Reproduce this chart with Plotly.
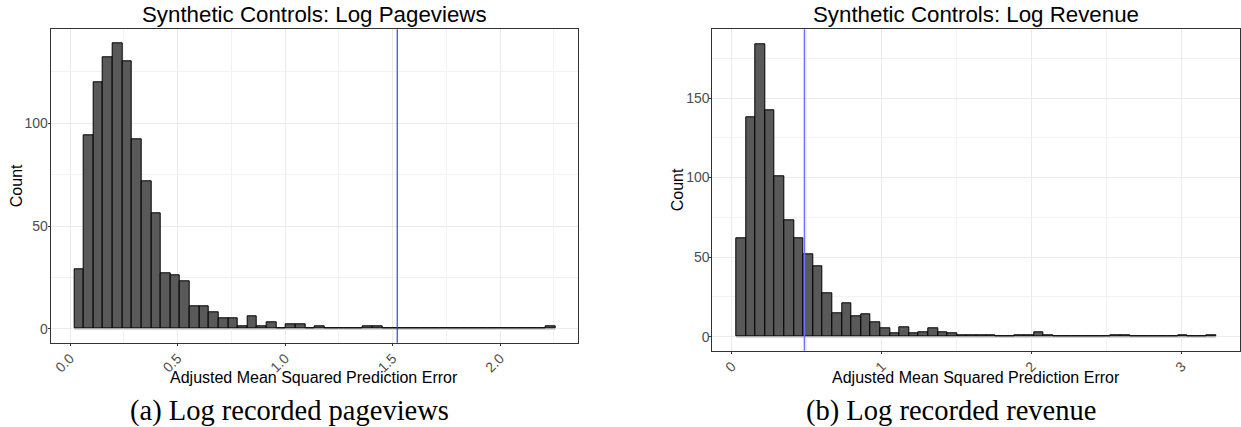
import numpy as np
import plotly.graph_objects as go

W, H = 1241, 427

# ---------------- data ----------------
pv_bin_start = 0.0195
pv_bin_width = 0.04478
pv_counts = [29, 94, 120, 132, 139, 130, 92, 72, 56, 27,
             26, 23, 11, 11, 8, 5, 5, 1, 6, 1,
             3, 0, 2, 2, 0, 1, 0, 0, 0, 0,
             1, 1, 0, 0, 0, 0, 0, 0, 0, 0,
             0, 0, 0, 0, 0, 0, 0, 0, 0, 1]
pv_threshold = 1.522

rev_bin_start = 0.031
rev_bin_width = 0.0640
rev_counts = [62, 138, 184, 142, 101, 73, 62, 52, 44, 27,
              15, 21, 13, 14, 9, 5, 2, 6, 2, 3,
              5, 3, 2, 1, 1, 1, 1, 0, 0, 1,
              1, 3, 1, 0, 0, 0, 0, 0, 0, 1,
              1, 0, 0, 0, 0, 0, 1, 0, 0, 1]
rev_threshold = 0.485

titles = ["Synthetic Controls: Log Pageviews", "Synthetic Controls: Log Revenue"]
captions = ["(a) Log recorded pageviews", "(b) Log recorded revenue"]
x_title = "Adjusted Mean Squared Prediction Error"
y_title = "Count"

# ---------------- helpers ----------------
def px_x(p):
    return p / W

def px_y(p):
    return 1 - p / H

SANS = "Liberation Sans, Arial, Helvetica, sans-serif"
SERIF = "Liberation Serif, Times New Roman, serif"
GRID = "#ebebeb"
BORDER = "#333333"
TICKC = "#4d4d4d"

fig = go.Figure()

panels = [
    dict(start=pv_bin_start, width=pv_bin_width, counts=pv_counts, thr=pv_threshold,
         xdom=(50.7, 578.0), ydom=(29.3, 342.7), xrange=[-0.0898, 2.3628], yrange=[-6.82, 145.77],
         xdtick=0.5, xminor=0.25, xfmt=".1f", ydtick=50, yminor=25,
         vcolor="#2a2aff", vwidth=1.1, xname="x", yname="y",
         title_x=314.3, cap_x=289.6, ytitle_x=16.7, ytitle_y=185.5),
    dict(start=rev_bin_start, width=rev_bin_width, counts=rev_counts, thr=rev_threshold,
         xdom=(712.3, 1240.0), ydom=(29.3, 350.7), xrange=[-0.1293, 3.3887], yrange=[-8.8, 193.2],
         xdtick=1, xminor=0.5, xfmt="d", ydtick=50, yminor=25,
         vcolor="#6f6fff", vwidth=1.5, xname="x2", yname="y2",
         title_x=976.2, cap_x=950.6, ytitle_x=677.5, ytitle_y=189.8),
]

annotations = []
shapes = []
for i, p in enumerate(panels):
    n = len(p["counts"])
    edges = p["start"] + np.arange(n + 1) * p["width"]
    centers = (edges[:-1] + edges[1:]) / 2
    fig.add_trace(go.Bar(
        x=centers, y=p["counts"], width=p["width"],
        marker=dict(color="#595959", line=dict(color="black", width=1)),
        xaxis=p["xname"], yaxis=p["yname"], showlegend=False, hoverinfo="x+y",
    ))
    xref = p["xname"]
    yref = p["yname"]
    # baseline under empty bins (as ggplot draws zero-height bars)
    shapes.append(dict(type="line", xref=xref, yref=yref, x0=edges[0], x1=edges[-1], y0=0, y1=0,
                       line=dict(color="#222222", width=1), layer="below"))
    # threshold vertical line
    shapes.append(dict(type="line", xref=xref, yref=yref + " domain", x0=p["thr"], x1=p["thr"], y0=0, y1=1,
                       line=dict(color=p["vcolor"], width=p["vwidth"]), layer="above"))

    axis_x = dict(
        domain=[px_x(p["xdom"][0]), px_x(p["xdom"][1])], range=p["xrange"], anchor=yref,
        tick0=0, dtick=p["xdtick"], tickformat=p["xfmt"], tickangle=-45,
        ticks="outside", ticklen=2, tickwidth=1, tickcolor=BORDER,
        tickfont=dict(family=SANS, size=14, color=TICKC), ticklabelstandoff=-1,
        showgrid=True, gridcolor=GRID, gridwidth=1,
        minor=dict(tick0=0, dtick=p["xminor"], showgrid=True, gridcolor="#f2f2f2", gridwidth=0.8),
        showline=True, mirror=True, linecolor=BORDER, linewidth=1, zeroline=False,
    )
    axis_y = dict(
        domain=[px_y(p["ydom"][1]), px_y(p["ydom"][0])], range=p["yrange"], anchor=xref,
        tick0=0, dtick=p["ydtick"],
        ticks="outside", ticklen=2, tickwidth=1, tickcolor=BORDER,
        tickfont=dict(family=SANS, size=14, color=TICKC), ticklabelstandoff=-3,
        showgrid=True, gridcolor=GRID, gridwidth=1,
        minor=dict(tick0=0, dtick=p["yminor"], showgrid=True, gridcolor="#f2f2f2", gridwidth=0.8),
        showline=True, mirror=True, linecolor=BORDER, linewidth=1, zeroline=False,
    )
    suffix = "" if i == 0 else "2"
    fig.update_layout(**{"xaxis" + suffix: axis_x, "yaxis" + suffix: axis_y})

    xmid = (p["xdom"][0] + p["xdom"][1]) / 2
    annotations += [
        dict(text=titles[i], x=px_x(p["title_x"]), y=px_y(14.5), xref="paper", yref="paper",
             xanchor="center", yanchor="middle", showarrow=False,
             font=dict(family=SANS, size=22.3, color="black")),
        dict(text=x_title, x=px_x(xmid), y=px_y(377.2), xref="paper", yref="paper",
             xanchor="center", yanchor="middle", showarrow=False,
             font=dict(family=SANS, size=16, color="black")),
        dict(text=y_title, x=px_x(p["ytitle_x"]), y=px_y(p["ytitle_y"]), xref="paper", yref="paper",
             xanchor="center", yanchor="middle", showarrow=False, textangle=-90,
             font=dict(family=SANS, size=16, color="black")),
        dict(text=captions[i], x=px_x(p["cap_x"]), y=px_y(411), xref="paper", yref="paper",
             xanchor="center", yanchor="middle", showarrow=False,
             font=dict(family=SERIF, size=28.5, color="black")),
    ]

fig.update_layout(
    width=W, height=H, autosize=False,
    margin=dict(l=0, r=0, t=0, b=0),
    paper_bgcolor="white", plot_bgcolor="white",
    bargap=0, annotations=annotations, shapes=shapes,
)

fig.write_html(
    "out.html",
    config={"displayModeBar": False},
    post_script="document.body.style.margin='0';document.body.style.padding='0';"
                "document.body.style.overflow='hidden';",
)
